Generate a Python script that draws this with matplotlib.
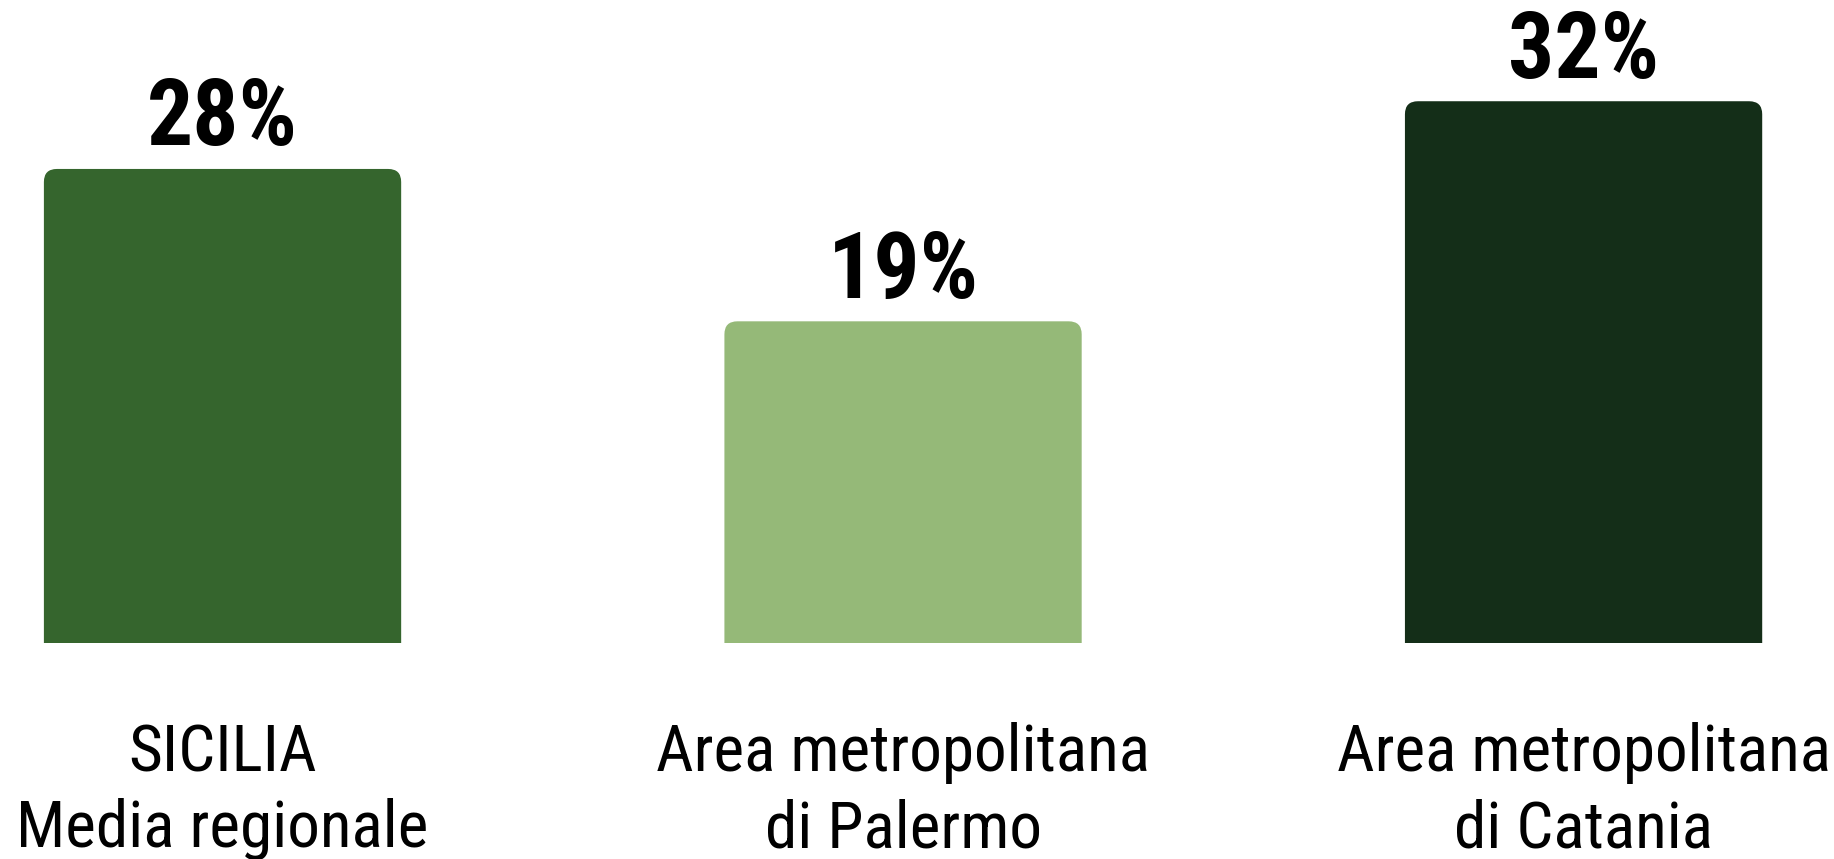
import matplotlib.pyplot as plt
from matplotlib.patches import FancyBboxPatch
from matplotlib.transforms import blended_transform_factory

# data
categories = ['SICILIA\nMedia regionale',
              'Area metropolitana\ndi Palermo',
              'Area metropolitana\ndi Catania']
values = [28, 19, 32]
value_labels = ['28%', '19%', '32%']
colors = ['#35652D', '#95B978', '#142E18']

font = ['Roboto Condensed', 'DejaVu Sans']

fig = plt.figure(figsize=(18.34, 8.59), dpi=100)
ax = fig.add_axes([0, 0.2515, 1, 0.7485])
ax.set_xlim(-0.327, 2.368)
ax.set_ylim(0, 37.98)
ax.axis('off')

x = list(range(len(values)))
bars = ax.bar(x, values, width=0.525, color=colors)

# px per data unit, used to keep the corner round
px_x = 1834 / (2.368 + 0.327)
px_y = 643 / 37.98
r = 13 / px_x
aspect = px_x / px_y

# rounded top corners; bottom corners fall below the axes and get clipped
for bar, c in zip(bars, colors):
    bx, by = bar.get_x(), bar.get_y()
    bw, bh = bar.get_width(), bar.get_height()
    bar.set_visible(False)
    p = FancyBboxPatch((bx, by - 2), bw, bh + 2,
                       boxstyle='round,pad=0,rounding_size=%f' % r,
                       mutation_aspect=aspect, fc=c, ec='none')
    ax.add_patch(p)

# value labels above bars
for xi, v, lab in zip(x, values, value_labels):
    ax.annotate(lab, (xi, v), xytext=(0, 17), textcoords='offset points',
                ha='center', va='baseline', fontsize=66, fontweight='bold',
                family=font, color='black')

# category labels below the bars
tr = blended_transform_factory(ax.transData, fig.transFigure)
for xi, cat in zip(x, categories):
    line1, line2 = cat.split('\n')
    ax.text(xi, (859 - 771) / 859, line1, transform=tr, ha='center',
            va='baseline', fontsize=47, fontweight='normal', family=font,
            color='black')
    ax.text(xi, (859 - 847) / 859, line2, transform=tr, ha='center',
            va='baseline', fontsize=47, fontweight='normal', family=font,
            color='black')

fig.savefig('out.png', dpi=100, facecolor='white')
